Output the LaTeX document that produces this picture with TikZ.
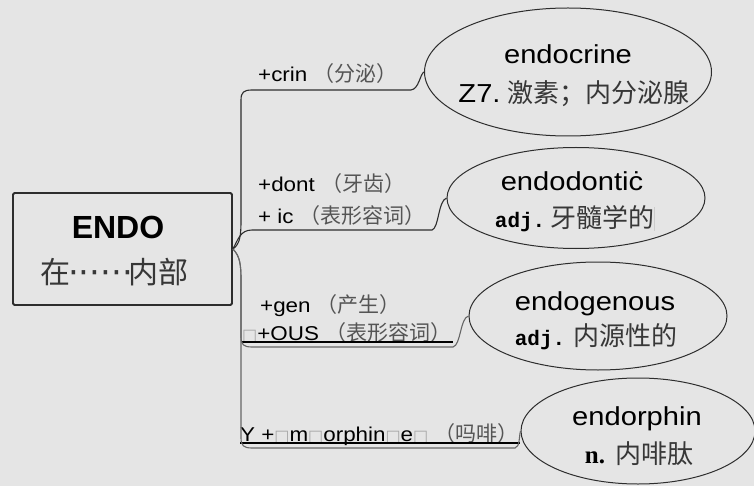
\documentclass[tikz,border=0pt]{standalone}
\usepackage{fontspec}
\setmainfont{Liberation Sans}
\newfontfamily\cjk{Noto Sans CJK SC}
\newfontfamily\wordfont[FakeStretch=1.12]{Liberation Sans}
\newfontfamily\codefont{Liberation Mono}
\newfontfamily\romanfont{Liberation Serif}
\newfontfamily\symfont{DejaVu Sans}
\usetikzlibrary{positioning, shapes.geometric}

\definecolor{paper}{RGB}{229,229,229}
\definecolor{ink}{RGB}{45,45,45}
\definecolor{zhink}{RGB}{55,55,55}
\definecolor{zhlight}{RGB}{85,85,85}

% Chinese glosses: large (in the ellipses) and small (on the branches)
\newcommand{\zh}[1]{{\cjk\color{zhink}#1}}
\newcommand{\zhs}[1]{{\cjk\fontsize{21}{21}\selectfont\color{zhlight}#1}}
\newcommand{\gapbox}{{\symfont\fontsize{16}{16}\selectfont\color{black!35}□}}
% six centred dots, as in the root's gloss
\newcommand{\middots}{{\symfont\fontsize{34}{34}\selectfont\color{zhink}%
  \kern-2pt\raisebox{-1pt}{\makebox[62pt][s]{·\hfill·\hfill·\hfill·\hfill·\hfill·}}\kern-2pt}}

\tikzset{
  rootbox/.style={draw=ink, line width=1.8pt, rounded corners=1.5pt,
    minimum width=219pt, minimum height=112pt, inner sep=0pt},
  leaf/.style={ellipse, draw=ink, line width=1pt, inner sep=0pt},
  branch/.style={draw=ink, line width=1.1pt},
  uline/.style={draw=black, line width=1.1pt},
  word/.style={anchor=base, inner sep=0pt, font=\wordfont\fontsize{26}{26}\selectfont},
  gloss/.style={anchor=base, inner sep=0pt, font=\fontsize{26}{26}\selectfont},
  part/.style={anchor=base west, inner sep=0pt, font=\wordfont\fontsize{20}{20}\selectfont},
}

\begin{document}
\begin{tikzpicture}[x=1pt, y=-1pt]

  % --- 1. FONDO ---
  \fill[paper] (0,0) rectangle (754,486);
  \useasboundingbox (0,0) rectangle (754,486);

  % --- 2. RAIZ ---
  \node[rootbox] (root) at (122.5,249) {};
  \node[anchor=base, inner sep=0pt, font=\bfseries\fontsize{32}{32}\selectfont] (rootword) at (118,238) {ENDO};
  \node[anchor=base, inner sep=0pt, font=\cjk\fontsize{30}{30}\selectfont, text=zhink] (rootmean) at (114,283) {在\middots 内部};

  % --- 3. PALABRAS (elipses) ---
  \node[leaf, minimum width=287pt, minimum height=128pt] (e1) at (568,72) {};
  \node[leaf, minimum width=258pt, minimum height=101pt] (e2) at (576,198) {};
  \node[leaf, minimum width=258pt, minimum height=108pt] (e3) at (598,316) {};
  \node[leaf, minimum width=234pt, minimum height=106pt] (e4) at (638,431) {};

  \node[word] (w1) at (568,64) {endocrine};
  \node[gloss] (g1) at (574,103) {{\wordfont Z7.}\kern7pt\zh{激素；内分泌腺}};
  \node[word] (w2) at (572,191) {endodontiċ};
  \node[gloss] (g2) at (575,228) {{\codefont\bfseries\fontsize{21}{21}\selectfont adj.}\kern5pt\zh{牙髓学的}{\color{black!20}\rule[-3pt]{0.8pt}{24pt}}};
  \node[word] (w3) at (595,310) {endogenous};
  \node[gloss] (g3) at (596,345) {{\codefont\bfseries\fontsize{21}{21}\selectfont adj.}\kern8pt\zh{内源性的}};
  \node[word] (w4) at (637,425) {endorphin};
  \node[gloss] (g4) at (639,463) {{\romanfont\bfseries\fontsize{25}{25}\selectfont n.}\kern10pt\zh{内啡肽}};

  % --- 4. PARTES (etiquetas de las ramas) ---
  \node[part] (l1a) at (258,82) {+crin \zhs{（分泌）}};
  \node[part] (l2a) at (258,192) {+dont \zhs{（牙齿）}};
  \node[part] (l2b) at (258,223) {+ ic \zhs{（表形容词）}};
  \node[part] (l3a) at (260,312) {+gen \zhs{（产生）}};
  \node[part] (l3b) at (242,340) {\gapbox+OUS \zhs{（表形容词）}};
  \node[part] (l4) at (240,441) {Y +\gapbox m\gapbox orphin\gapbox e\gapbox{} \zhs{（吗啡）}};

  % subrayado del texto
  \draw[uline] ([yshift=-2pt]l3b.base west) -- ++(211,0);
  \draw[uline] ([yshift=-2pt]l4.base west) -- ++(280,0);

  % --- 5. RAMAS ---
  \draw[branch] (root.east) .. controls (240,244) and (241,236) .. (241,220)
    -- (241,100) .. controls (241,92) and (244,90) .. (252,90)
    -- (411,90) .. controls (419,89) and (420,74) .. (e1.west);
  \draw[branch] (root.east) .. controls (238,240) and (240,230) .. (252,230)
    -- (432,230) .. controls (439,228) and (438,201) .. (e2.west);
  \draw[branch, draw=black!60] (root.east) .. controls (240,256) and (241,265) .. (241,280)
    -- (241,337) .. controls (241,345) and (244,347) .. (252,347)
    -- (453,347) .. controls (461,345) and (460,318) .. (e3.west);
  \draw[branch, draw=black!60] (root.east) .. controls (240,256) and (241,265) .. (241,280)
    -- (241,438) .. controls (241,446) and (244,448) .. (252,448)
    -- (515,448) .. controls (520,447) and (519,436) .. (e4.west);

\end{tikzpicture}
\end{document}
